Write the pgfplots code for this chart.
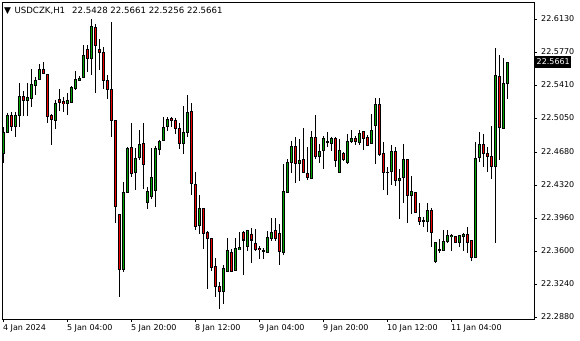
\documentclass[border=0pt]{standalone}
\usepackage{fontspec}
\setmainfont{DejaVu Sans}
\usepackage{pgfplots}
\usepackage{pgfplotstable}
\pgfplotsset{compat=1.18}

\pgfplotstableread{
x O H L C
0 22.4665 22.4949 22.4563 22.4890
1 22.4890 22.5108 22.4883 22.5079
3 22.4956 22.5119 22.4839 22.5079
4 22.5079 22.5436 22.4956 22.5290
6 22.5239 22.5436 22.5072 22.5276
7 22.5261 22.5581 22.5174 22.5414
8 22.5407 22.5501 22.5297 22.5465
9 22.5472 22.5639 22.5465 22.5581
13 22.5028 22.5247 22.4934 22.5210
16 22.5210 22.5319 22.5087 22.5239
17 22.5225 22.5399 22.5218 22.5385
18 22.5377 22.5566 22.5356 22.5472
19 22.5457 22.5508 22.5450 22.5487
20 22.5494 22.5843 22.5487 22.5734
22 22.5697 22.6126 22.5523 22.6054
30 22.3400 22.4352 22.3371 22.4236
31 22.4236 22.4738 22.4236 22.4723
33 22.4454 22.4723 22.4265 22.4614
34 22.4621 22.4919 22.4592 22.4767
36 22.4127 22.4294 22.4054 22.4251
37 22.4192 22.4723 22.4163 22.4403
38 22.4258 22.4745 22.4076 22.4723
39 22.4709 22.4810 22.4650 22.4796
40 22.4803 22.5058 22.4796 22.4949
41 22.4963 22.5065 22.4912 22.5036
45 22.4774 22.5181 22.4658 22.4898
46 22.4890 22.5305 22.4839 22.5116
49 22.3880 22.4207 22.3785 22.4069
55 22.3160 22.3444 22.3022 22.3407
56 22.3378 22.3742 22.3378 22.3604
58 22.3393 22.3742 22.3378 22.3633
59 22.3618 22.3807 22.3611 22.3633
61 22.3647 22.3829 22.3596 22.3829
66 22.3582 22.3814 22.3574 22.3742
67 22.3742 22.3960 22.3713 22.3807
70 22.3582 22.4549 22.3560 22.4251
71 22.4243 22.4607 22.4236 22.4570
72 22.4563 22.4803 22.4447 22.4738
74 22.4556 22.4825 22.4360 22.4592
77 22.4389 22.4905 22.4381 22.4839
79 22.4629 22.4767 22.4556 22.4687
80 22.4701 22.4854 22.4498 22.4832
81 22.4789 22.4898 22.4730 22.4796
82 22.4774 22.4847 22.4687 22.4832
84 22.4454 22.4825 22.4454 22.4701
86 22.4570 22.4876 22.4549 22.4796
87 22.4789 22.4919 22.4781 22.4832
89 22.4781 22.4919 22.4752 22.4883
92 22.4774 22.5094 22.4767 22.4919
93 22.4970 22.5268 22.4549 22.5203
96 22.4454 22.4512 22.4214 22.4461
97 22.4469 22.4752 22.4323 22.4680
99 22.4367 22.4498 22.3953 22.4396
100 22.4403 22.4767 22.4120 22.4600
102 22.4200 22.4418 22.4003 22.4251
106 22.3923 22.4127 22.3807 22.4047
108 22.3480 22.3691 22.3473 22.3691
109 22.3604 22.3734 22.3582 22.3611
110 22.3611 22.3829 22.3604 22.3705
111 22.3705 22.3829 22.3691 22.3764
112 22.3756 22.3785 22.3604 22.3771
114 22.3691 22.3771 22.3640 22.3764
115 22.3764 22.3800 22.3604 22.3785
118 22.3531 22.4789 22.3531 22.4614
119 22.4621 22.4898 22.4570 22.4767
123 22.4520 22.5814 22.3684 22.5516
125 22.4941 22.5705 22.4934 22.5428
126 22.5428 22.5661 22.5254 22.5661
}\up

\pgfplotstableread{
x O H L C
2 22.5079 22.5119 22.4912 22.4956
5 22.5290 22.5348 22.5072 22.5239
10 22.5581 22.5661 22.5537 22.5537
11 22.5530 22.5530 22.4999 22.5065
12 22.5079 22.5094 22.4752 22.5036
14 22.5247 22.5363 22.5130 22.5218
15 22.5225 22.5283 22.5116 22.5210
21 22.5799 22.5850 22.5552 22.5697
23 22.6039 22.6075 22.5319 22.5843
24 22.5799 22.5908 22.5574 22.5763
25 22.5770 22.5828 22.5370 22.5457
26 22.5457 22.5516 22.5261 22.5363
27 22.5363 22.6097 22.4847 22.5028
28 22.5028 22.5028 22.3902 22.4083
29 22.4003 22.4003 22.3095 22.3400
32 22.4723 22.4999 22.4411 22.4447
35 22.4767 22.4999 22.4280 22.4541
42 22.5050 22.5065 22.4949 22.5021
43 22.5028 22.5050 22.4876 22.4934
44 22.4941 22.4999 22.4709 22.4774
47 22.5116 22.5218 22.4214 22.4338
48 22.4331 22.4461 22.3829 22.3865
50 22.4069 22.4069 22.3625 22.3793
51 22.3800 22.3822 22.3182 22.3734
52 22.3734 22.3734 22.3378 22.3422
53 22.3436 22.3524 22.3095 22.3218
54 22.3211 22.3262 22.2964 22.3160
57 22.3589 22.3618 22.3371 22.3378
60 22.3807 22.3814 22.3342 22.3720
62 22.3785 22.3851 22.3465 22.3720
63 22.3684 22.3843 22.3596 22.3618
64 22.3625 22.3654 22.3509 22.3611
65 22.3604 22.3633 22.3509 22.3596
68 22.3829 22.3960 22.3713 22.3734
69 22.3793 22.3894 22.3451 22.3589
73 22.4738 22.4847 22.4345 22.4549
75 22.4600 22.4941 22.4447 22.4454
76 22.4447 22.4738 22.4374 22.4403
78 22.4839 22.5079 22.4607 22.4636
83 22.4832 22.4847 22.4520 22.4585
85 22.4658 22.4680 22.4578 22.4592
88 22.4832 22.4854 22.4752 22.4789
90 22.4898 22.4905 22.4701 22.4825
91 22.4839 22.4861 22.4745 22.4752
94 22.5196 22.5268 22.4636 22.4650
95 22.4658 22.4789 22.4265 22.4454
98 22.4687 22.4738 22.4309 22.4367
101 22.4600 22.4600 22.3909 22.4207
103 22.4243 22.4243 22.4018 22.4025
104 22.3967 22.4127 22.3887 22.3923
105 22.3931 22.3974 22.3858 22.3923
107 22.4047 22.4069 22.3647 22.3800
113 22.3764 22.3764 22.3691 22.3698
116 22.3778 22.3865 22.3582 22.3691
117 22.3713 22.3713 22.3495 22.3531
120 22.4767 22.4876 22.4520 22.4665
121 22.4665 22.4738 22.4461 22.4629
122 22.4636 22.4963 22.4389 22.4520
124 22.5508 22.5741 22.4592 22.4949
}\down

% axis: 317pt tall for 22.6315-22.2858 = 0.3457 -> 916.98 pt per unit
\pgfplotsset{
  wick/.style={color=black, only marks, mark size=0pt, forget plot,
    error bars/.cd, y dir=both, y explicit, error mark=none,
    error bar style={solid, line width=1pt}},
  bodyout/.style={color=black, only marks, mark size=0pt, forget plot,
    error bars/.cd, y dir=both, y explicit, error mark=none,
    error bar style={solid, line width=3.2pt}},
  bodyin/.style={color=#1, only marks, mark size=0pt, forget plot,
    error bars/.cd, y dir=both, y explicit, error mark=none,
    error bar style={solid, line width=1.5pt}},
}

\begin{document}
\begin{tikzpicture}[font=\fontsize{8pt}{9.6pt}\selectfont]
\path[use as bounding box] (0,0) rectangle (580pt,340pt);
\begin{axis}[
  at={(2pt,21pt)}, anchor=south west,
  scale only axis, width=532pt, height=317pt,
  xmin=-0.33, xmax=132.67,
  ymin=22.2858, ymax=22.6315,
  axis line style={black, line width=0.8pt},
  ytick={22.2880,22.3240,22.3600,22.3960,22.4320,22.4680,22.5050,22.5410,22.5770,22.6130},
  yticklabels={22.2880,22.3240,22.3600,22.3960,22.4320,22.4680,22.5050,22.5410,22.5770,22.6130},
  ytick pos=right, yticklabel pos=right,
  xtick={0,16,32,48,64,80,96,112},
  xticklabels={4 Jan 2024,5 Jan 04:00,5 Jan 20:00,8 Jan 12:00,9 Jan 04:00,9 Jan 20:00,10 Jan 12:00,11 Jan 04:00},
  xtick pos=bottom,
  tick align=outside,
  major tick length=3pt,
  tick style={black, line width=0.8pt},
  xticklabel style={anchor=north west, inner sep=0pt, xshift=-0.5pt, yshift=-2.5pt},
  yticklabel style={anchor=west, inner sep=0pt, xshift=4pt},
]
\addplot[wick]
  table[x=x, y expr={(\thisrow{H}+\thisrow{L})/2}, y error expr={(\thisrow{H}-\thisrow{L})/2}] {\up};
\addplot[wick]
  table[x=x, y expr={(\thisrow{H}+\thisrow{L})/2}, y error expr={(\thisrow{H}-\thisrow{L})/2}] {\down};
\addplot[bodyout]
  table[x=x, y expr={(\thisrow{O}+\thisrow{C})/2}, y error expr={(\thisrow{C}-\thisrow{O})/2+0.00055}] {\up};
\addplot[bodyout]
  table[x=x, y expr={(\thisrow{O}+\thisrow{C})/2}, y error expr={(\thisrow{O}-\thisrow{C})/2+0.00055}] {\down};
\addplot[bodyin={green!65!black}]
  table[x=x, y expr={(\thisrow{O}+\thisrow{C})/2}, y error expr={max(0,(\thisrow{C}-\thisrow{O})/2-0.00055)}] {\up};
\addplot[bodyin={red!95!black}]
  table[x=x, y expr={(\thisrow{O}+\thisrow{C})/2}, y error expr={max(0,(\thisrow{O}-\thisrow{C})/2-0.00055)}] {\down};
\end{axis}
\node[fill=black, text=white, anchor=west, inner sep=1.5pt, minimum height=12pt] at (535pt,{340pt-62pt}) {22.5661};
\node[anchor=west, inner sep=0pt] at (4pt,{340pt-11pt}) {\fontsize{9pt}{9pt}\selectfont ▼\hspace{3.5pt}\fontsize{8.6pt}{10pt}\selectfont USDCZK,H1\hspace{7pt}22.5428 22.5661 22.5256 22.5661};
\end{tikzpicture}
\end{document}
